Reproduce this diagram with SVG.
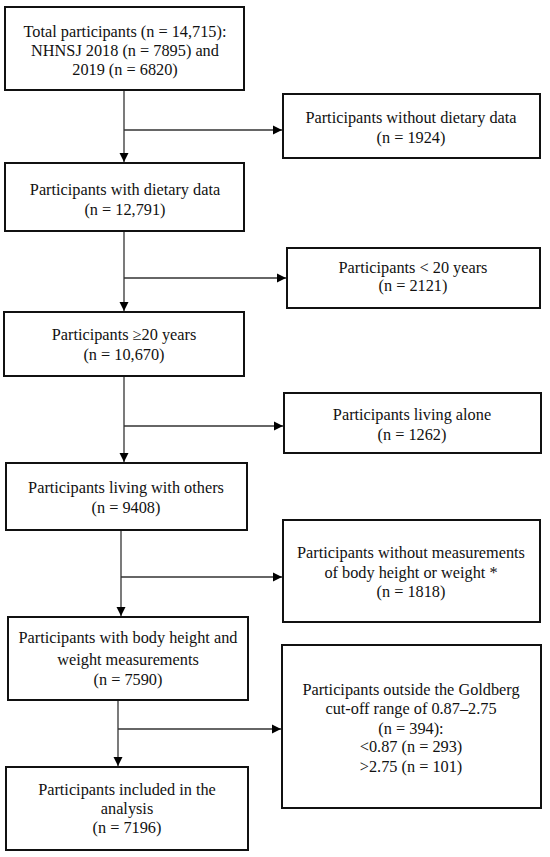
<svg xmlns="http://www.w3.org/2000/svg" width="550" height="857" viewBox="0 0 550 857">
<style>
.box{fill:#fff;stroke:#111;stroke-width:2}
.t{font-family:"Liberation Serif","Times New Roman",serif;font-size:16.3px;fill:#111;text-anchor:middle}
.c{fill:none;stroke:#333;stroke-width:1.3}
</style>
<defs>
<marker id="ah" markerWidth="10" markerHeight="10" refX="9" refY="5" orient="auto" markerUnits="userSpaceOnUse">
<path d="M0,0.5 L9,5 L0,9.5 Z" fill="#000"/>
</marker>
</defs>
<rect width="550" height="857" fill="#fff"/>
<g id="connectors">
<path class="c" d="M124,90 V162" marker-end="url(#ah)"/>
<path class="c" d="M124,130 H282" marker-end="url(#ah)"/>
<path class="c" d="M124,231 V311" marker-end="url(#ah)"/>
<path class="c" d="M124,278 H286" marker-end="url(#ah)"/>
<path class="c" d="M124,376 V462" marker-end="url(#ah)"/>
<path class="c" d="M124,426 H283" marker-end="url(#ah)"/>
<path class="c" d="M121,530 V616" marker-end="url(#ah)"/>
<path class="c" d="M121,577 H282" marker-end="url(#ah)"/>
<path class="c" d="M118,700 V766" marker-end="url(#ah)"/>
<path class="c" d="M118,729 H281" marker-end="url(#ah)"/>
</g>
<g id="n1">
<rect class="box" x="5" y="7" width="239" height="83"/>
<text class="t" x="125" y="37">Total participants (n = 14,715):</text>
<text class="t" x="125" y="56">NHNSJ 2018 (n = 7895) and</text>
<text class="t" x="125" y="75">2019 (n = 6820)</text>
</g>
<g id="n2">
<rect class="box" x="283" y="94" width="257" height="64"/>
<text class="t" x="411" y="123">Participants without dietary data</text>
<text class="t" x="411" y="143">(n = 1924)</text>
</g>
<g id="n3">
<rect class="box" x="5" y="163" width="239" height="68"/>
<text class="t" x="125" y="195">Participants with dietary data</text>
<text class="t" x="125" y="215">(n = 12,791)</text>
</g>
<g id="n4">
<rect class="box" x="287" y="248" width="253" height="60"/>
<text class="t" x="413" y="273">Participants &lt; 20 years</text>
<text class="t" x="413" y="291">(n = 2121)</text>
</g>
<g id="n5">
<rect class="box" x="4" y="312" width="240" height="64"/>
<text class="t" x="124" y="340">Participants ≥20 years</text>
<text class="t" x="124" y="360">(n = 10,670)</text>
</g>
<g id="n6">
<rect class="box" x="284" y="393" width="257" height="60"/>
<text class="t" x="412" y="420">Participants living alone</text>
<text class="t" x="412" y="440">(n = 1262)</text>
</g>
<g id="n7">
<rect class="box" x="6" y="463" width="241" height="67"/>
<text class="t" x="126" y="493">Participants living with others</text>
<text class="t" x="126" y="513">(n = 9408)</text>
</g>
<g id="n8">
<rect class="box" x="283" y="520" width="257" height="102"/>
<text class="t" x="411" y="558">Participants without measurements</text>
<text class="t" x="411" y="578">of body height or weight *</text>
<text class="t" x="411" y="597">(n = 1818)</text>
</g>
<g id="n9">
<rect class="box" x="8" y="617" width="240" height="83"/>
<text class="t" x="128" y="643">Participants with body height and</text>
<text class="t" x="128" y="665">weight measurements</text>
<text class="t" x="128" y="685">(n = 7590)</text>
</g>
<g id="n10">
<rect class="box" x="282" y="645" width="259" height="163"/>
<text class="t" x="411" y="695">Participants outside the Goldberg</text>
<text class="t" x="411" y="714">cut-off range of 0.87–2.75</text>
<text class="t" x="411" y="734">(n = 394):</text>
<text class="t" x="411" y="752">&lt;0.87 (n = 293)</text>
<text class="t" x="411" y="772">&gt;2.75 (n = 101)</text>
</g>
<g id="n11">
<rect class="box" x="6" y="767" width="242" height="83"/>
<text class="t" x="127" y="795">Participants included in the</text>
<text class="t" x="127" y="814">analysis</text>
<text class="t" x="127" y="833">(n = 7196)</text>
</g>
</svg>
